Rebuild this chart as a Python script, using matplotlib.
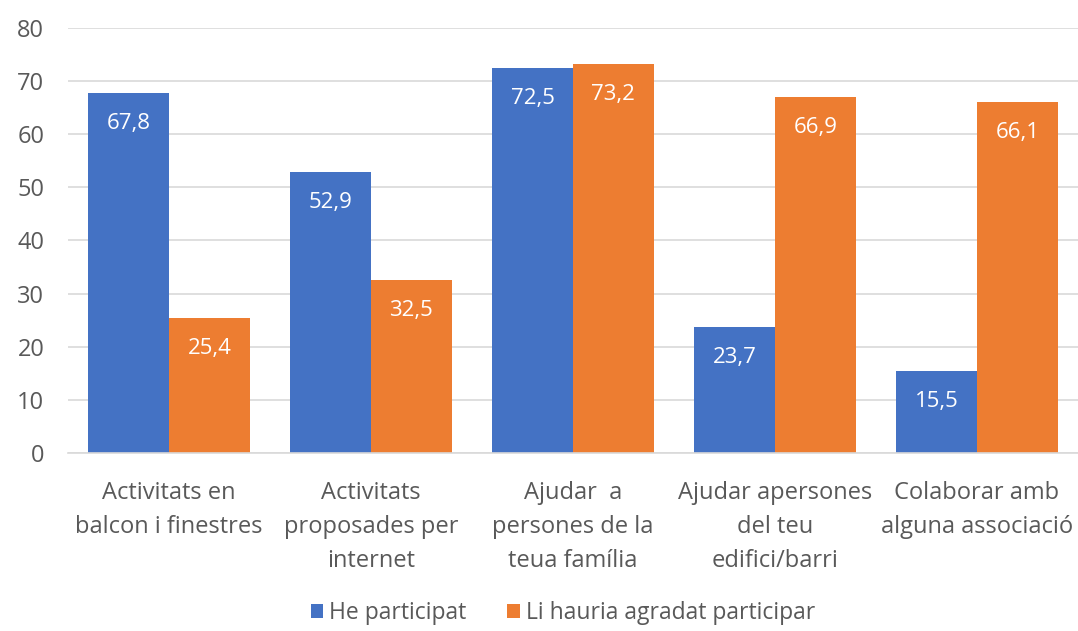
import matplotlib.pyplot as plt
import numpy as np

plt.rcParams['font.family'] = ['Open Sans', 'DejaVu Sans']

# data
categories = ["Activitats en\nbalcon i finestres",
              "Activitats\nproposades per\ninternet",
              "Ajudar  a\npersones de la\nteua família",
              "Ajudar apersones\ndel teu\nedifici/barri",
              "Colaborar amb\nalguna associació"]
participat = [67.8, 52.9, 72.5, 23.7, 15.5]
agradat = [25.4, 32.5, 73.2, 66.9, 66.1]
series_names = ["He participat", "Li hauria agradat participar"]

blue = '#4472C4'
orange = '#ED7D31'
grey = '#595959'

fig = plt.figure(figsize=(10.78, 6.31), dpi=100)
ax = fig.add_axes([0.063, 0.282, 0.937, 0.674])

x = np.arange(len(categories))
w = 0.4
b1 = ax.bar(x - w/2, participat, w, color=blue, label=series_names[0], zorder=2)
b2 = ax.bar(x + w/2, agradat, w, color=orange, label=series_names[1], zorder=2)

for bars, vals in [(b1, participat), (b2, agradat)]:
    for r, v in zip(bars, vals):
        ax.annotate(f"{v:.1f}".replace('.', ','),
                    (r.get_x() + r.get_width()/2, v),
                    xytext=(0, -22), textcoords='offset points',
                    ha='center', va='center', color='white', fontsize=16)

ax.set_ylim(0, 80)
ax.set_xlim(-0.5, len(categories) - 0.5)
ax.set_yticks(range(0, 81, 10))
ax.yaxis.grid(True, color='#d9d9d9', linewidth=1.2, zorder=0)
ax.set_axisbelow(True)
for s in ['top', 'right', 'left']:
    ax.spines[s].set_visible(False)
ax.spines['bottom'].set_color('#d9d9d9')
ax.spines['bottom'].set_linewidth(1.2)
ax.tick_params(axis='both', length=0, colors=grey, labelsize=17)
ax.tick_params(axis='x', pad=20)
ax.tick_params(axis='y', pad=17)
ax.set_xticks(x)
ax.set_xticklabels(categories, linespacing=1.55)

fig.legend(handles=[b1, b2], labels=series_names, loc='center',
           bbox_to_anchor=(0.522, 0.028), ncol=2, frameon=False,
           fontsize=16.5, labelcolor=grey, handlelength=0.55, handleheight=0.55,
           handletextpad=0.25, columnspacing=1.8, borderpad=0.1)

fig.savefig('out.png', dpi=100)
